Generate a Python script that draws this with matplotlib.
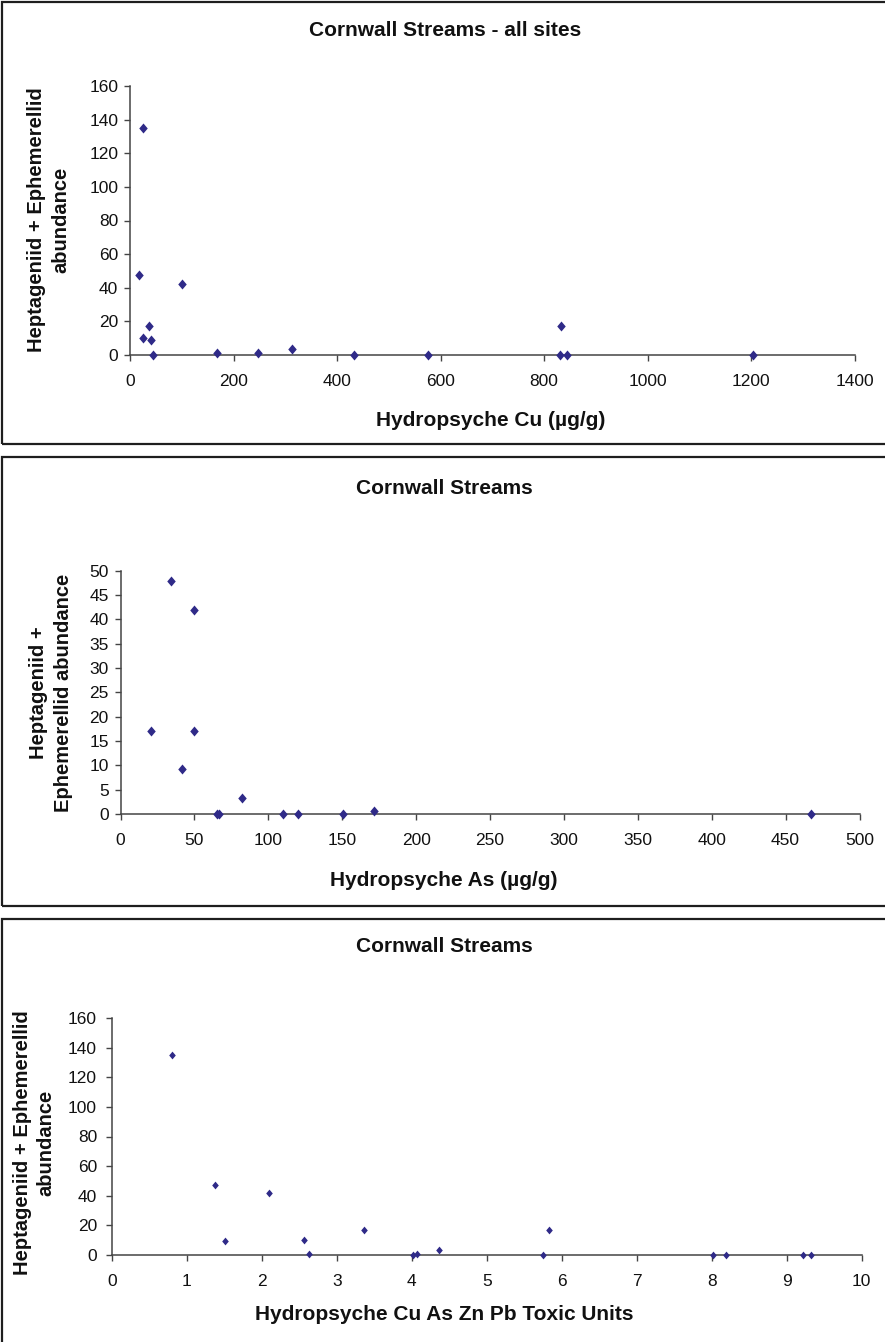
import matplotlib
matplotlib.use("Agg")
import matplotlib.pyplot as plt
from matplotlib.patches import Rectangle

plt.rcParams['font.family'] = ['Liberation Sans', 'DejaVu Sans']

# ---------------- data ----------------
cu_x = [26, 18, 100, 36, 26, 41, 44, 168, 248, 314, 433, 575, 833, 830, 845, 1203]
cu_y = [135, 47.5, 42, 17, 10, 9, 0, 1, 1, 3.5, 0, 0, 17, 0, 0, 0]

as_x = [20.4, 34.2, 49.7, 49.7, 41.4, 65.1, 66.4, 82.2, 110.2, 120.1, 150.8, 171.7, 467]
as_y = [17, 47.8, 42, 17, 9.3, 0, 0, 3.3, 0, 0, 0, 0.55, 0]

tu_x = [0.81, 1.38, 1.51, 2.10, 2.57, 2.63, 3.37, 4.02, 4.07, 4.36, 5.75, 5.83, 8.02, 8.19, 9.22, 9.32]
tu_y = [135, 47, 9.5, 42, 10, 0.7, 17, 0, 0.7, 3.4, 0, 17, 0, 0, 0, 0]

titles = ["Cornwall Streams - all sites", "Cornwall Streams", "Cornwall Streams"]
xlabels = ["Hydropsyche Cu (\u00b5g/g)", "Hydropsyche As (\u00b5g/g)", "Hydropsyche Cu As Zn Pb Toxic Units"]
ylabels = ["Heptageniid + Ephemerellid\nabundance",
           "Heptageniid +\nEphemerellid abundance",
           "Heptageniid + Ephemerellid\nabundance"]
x_ticks = [list(range(0, 1401, 200)), list(range(0, 501, 50)), list(range(0, 11, 1))]
y_ticks = [list(range(0, 161, 20)), list(range(0, 51, 5)), list(range(0, 161, 20))]

W, H = 885, 1342
fig = plt.figure(figsize=(W / 100, H / 100), dpi=100)

def fx(px):
    return px / W

def fy(py):
    return 1 - py / H

panels = [
    dict(ax=(130, 854.5, 86, 355), box=(2, 443.5), title=(445, 31), xlab=(491, 421),
         ylab=(49, 220), ms=7.2, ls=1.35, x=cu_x, y=cu_y),
    dict(ax=(120.5, 859.5, 570.7, 814), box=(457, 906), title=(444, 488), xlab=(444, 880),
         ylab=(51, 693), ms=7.2, ls=1.45, x=as_x, y=as_y),
    dict(ax=(111.7, 861.7, 1018, 1255), box=(918.5, 1345), title=(444, 946), xlab=(444, 1315),
         ylab=(34, 1143), ms=5.6, ls=1.3, x=tu_x, y=tu_y),
]

marker = [(0, 1), (0.85, 0), (0, -1), (-0.85, 0), (0, 1)]
mcolor = '#2f2a88'
axis_color = '#444444'

for i, p in enumerate(panels):
    l, r, t, b = p['ax']
    bt, bb = p['box']
    fig.add_artist(Rectangle((fx(2), fy(bb)), fx(900) - fx(2), fy(bt) - fy(bb),
                             transform=fig.transFigure, fill=False,
                             edgecolor='#1e1e1e', linewidth=1.6))
    ax = fig.add_axes([fx(l), fy(b), fx(r) - fx(l), fy(t) - fy(b)])
    ax.scatter(p['x'], p['y'], marker=marker, s=p['ms'] ** 2, color=mcolor,
               linewidths=0, zorder=3, clip_on=False)
    ax.set_xlim(x_ticks[i][0], x_ticks[i][-1])
    ax.set_ylim(y_ticks[i][0], y_ticks[i][-1])
    ax.set_xticks(x_ticks[i])
    ax.set_yticks(y_ticks[i])
    ax.spines['top'].set_visible(False)
    ax.spines['right'].set_visible(False)
    for s in ('left', 'bottom'):
        ax.spines[s].set_color(axis_color)
        ax.spines[s].set_linewidth(1.1)
    ax.tick_params(axis='both', direction='out', length=4.5, width=1.0,
                   color=axis_color, labelsize=12.5, labelcolor='#111111')
    ax.tick_params(axis='x', pad=9)
    ax.tick_params(axis='y', pad=4 if i < 2 else 6)
    ax.set_facecolor('none')

    fig.text(fx(p['title'][0]), fy(p['title'][1]), titles[i], ha='center', va='center',
             fontsize=15, fontweight='bold', color='#111111')
    fig.text(fx(p['xlab'][0]), fy(p['xlab'][1]), xlabels[i], ha='center', va='center',
             fontsize=15, fontweight='bold', color='#111111')
    fig.text(fx(p['ylab'][0]), fy(p['ylab'][1]), ylabels[i], ha='center', va='center',
             rotation=90, fontsize=14.5, fontweight='bold', color='#111111',
             multialignment='center', linespacing=p['ls'])

fig.savefig('out.png', dpi=100)
